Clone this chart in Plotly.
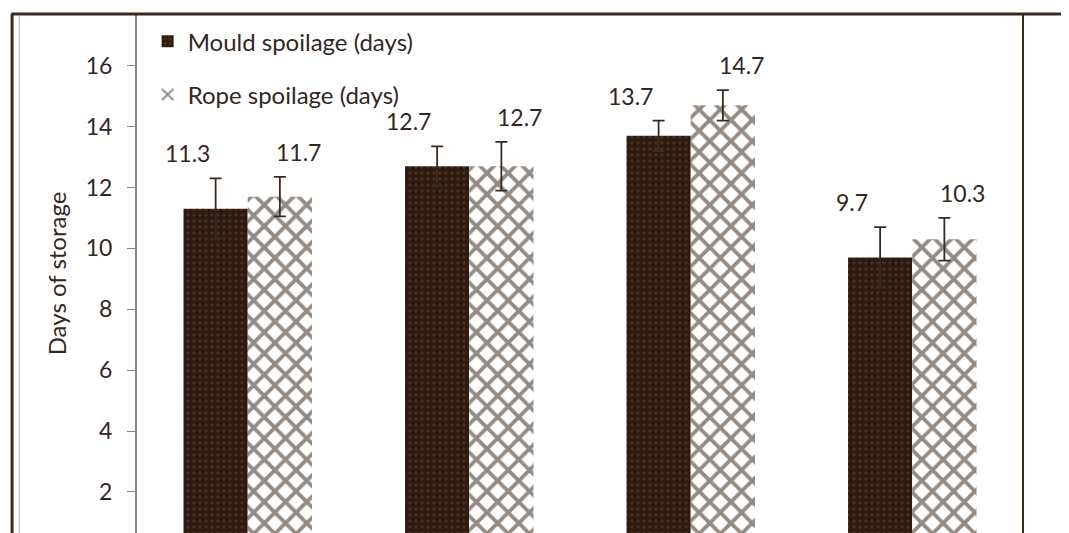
import plotly.graph_objects as go

categories = ["T1", "T2", "T3", "T4"]
mould_days = [11.3, 12.7, 13.7, 9.7]
mould_err = [1.0, 0.65, 0.5, 1.0]
rope_days = [11.7, 12.7, 14.7, 10.3]
rope_err = [0.65, 0.8, 0.5, 0.7]
y_ticks = [2, 4, 6, 8, 10, 12, 14, 16]

BROWN = "#2e1a0e"
TXT = "#33271f"
FONT = "Lato"

fig = go.Figure()
fig.add_trace(go.Bar(
    name="Mould spoilage (days)", x=categories, y=mould_days,
    legendgroup="m",
    marker=dict(color=BROWN, line=dict(width=0),
                pattern=dict(shape=".", fgcolor="#5b4535", bgcolor=BROWN, size=6, solidity=0.25)),
    error_y=dict(type="data", array=mould_err, visible=True, color="#3a2a20", thickness=1.8, width=6),
))
fig.add_trace(go.Bar(
    name="Rope spoilage (days)", x=categories, y=rope_days,
    legendgroup="r",
    marker=dict(color="white", line=dict(width=0),
                pattern=dict(shape="x", fgcolor="#2a170c", bgcolor="white", size=15, solidity=0.45)),
    error_y=dict(type="data", array=rope_err, visible=True, color="#3a2a20", thickness=1.8, width=6),
))

# value labels above error bars
for i, c in enumerate(categories):
    for off, vals, errs in ((-0.25, mould_days, mould_err), (0.25, rope_days, rope_err)):
        fig.add_annotation(x=i + off, y=vals[i] + errs[i], xref="x", yref="y",
                           text=f"{vals[i]:.1f}", showarrow=False, yanchor="bottom", yshift=9, xshift=-5,
                           font=dict(family=FONT, size=23, color=TXT))

# outer frame lines
fig.add_shape(type="line", xref="paper", yref="paper", x0=-0.142, x1=1.07, y0=1.0, y1=1.0,
              line=dict(color="#3b2a20", width=3))
fig.add_shape(type="line", xref="paper", yref="paper", x0=-0.141, x1=-0.141, y0=-0.05, y1=1.0,
              line=dict(color="#3b2a20", width=3))
fig.add_shape(type="line", xref="paper", yref="paper", x0=-0.133, x1=-0.133, y0=-0.05, y1=0.997,
              line=dict(color="#bdb6b0", width=1))
fig.add_shape(type="line", xref="paper", yref="paper", x0=1.0, x1=1.0, y0=-0.05, y1=1.0,
              line=dict(color="#3b2a20", width=2))

fig.update_layout(
    width=1061, height=525,
    margin=dict(l=129, r=46, t=6, b=0),
    paper_bgcolor="white", plot_bgcolor="white",
    barmode="group", bargap=0.42, bargroupgap=0,
    font=dict(family=FONT, color=TXT, size=23),
    showlegend=True,
    legend=dict(x=0.012, y=0.99, xanchor="left", yanchor="top", bgcolor="rgba(0,0,0,0)",
                tracegroupgap=19, font=dict(family=FONT, size=24, color=TXT),
                itemwidth=30),
    xaxis=dict(showticklabels=False, showline=False, ticks="", showgrid=False, zeroline=False),
    yaxis=dict(range=[0.65, 17.7], tickvals=y_ticks, ticks="outside", ticklen=8, tickcolor="#8a8480",
               showline=True, linecolor="#8a8480", linewidth=2, showgrid=False, zeroline=False,
               ticklabelstandoff=10,
               tickfont=dict(family=FONT, size=23, color=TXT),
               title=dict(text="Days of storage", font=dict(family=FONT, size=24, color=TXT), standoff=12)),
)

fig.write_html("out.html")
